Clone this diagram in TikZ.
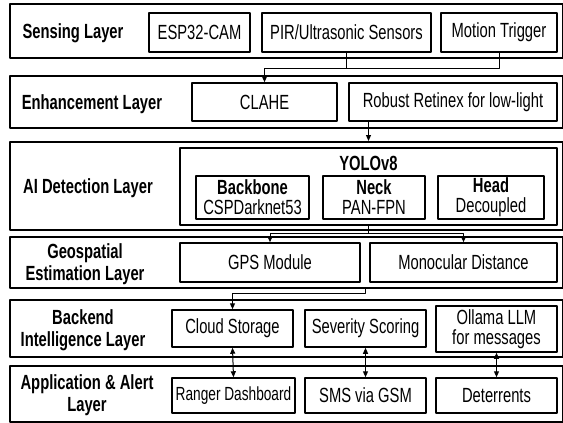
\documentclass[tikz,border=0pt]{standalone}
\usepackage{fontspec}
\setmainfont[FakeStretch=0.72]{Liberation Sans}
\usepackage{tikz}
\usetikzlibrary{arrows.meta,calc}
\newcommand{\txtsize}{\fontsize{20.5}{22}\selectfont}
\newcommand{\tightsize}{\fontsize{20.5}{20}\selectfont}
\tikzset{
    every picture/.style={line join=round},
    layerbox/.style={draw=black,line width=2pt,minimum width=553pt,inner sep=0pt},
    layerlabel/.style={font=\txtsize\bfseries,align=center,inner sep=0pt},
    modbox/.style={draw=black,line width=1.5pt,minimum height=39pt,
      inner xsep=0pt,inner ysep=1pt,font=\txtsize,align=center},
    twoline/.style={font=\tightsize},
    flowline/.style={draw=black,line width=1pt},
    flowarrow/.style={flowline,-{Triangle[length=6pt,width=5pt]}},
    twowayarrow/.style={flowline,{Triangle[length=6pt,width=5pt]}-{Triangle[length=6pt,width=5pt]}}
}
\begin{document}
\begin{tikzpicture}[x=1pt,y=-1pt]
  \useasboundingbox (0,0) rectangle (563,423);

  \node[layerbox,minimum height=54pt] (sense) at (286.5,31) {};
  \node[layerlabel] (senselbl) at (73,33) {Sensing Layer};
  \node[modbox,minimum width=101pt] (esp) at (199.5,32.5) {ESP32-CAM};
  \node[modbox,minimum width=169pt] (pir) at (346.5,32.5) {PIR/Ultrasonic Sensors};
  \node[modbox,minimum width=116pt] (motion) at (499,32.5) {Motion Trigger};

  \node[layerbox,minimum height=52pt] (enh) at (286.5,102) {};
  \node[layerlabel] (enhlbl) at (92,104) {Enhancement Layer};
  \node[modbox,minimum width=145pt,minimum height=38pt] (clahe) at (264.5,102) {CLAHE};
  \node[modbox,minimum width=208pt,minimum height=38pt] (retinex) at (453,102)
    {Robust Retinex for low-light};

  \node[layerbox,minimum height=88pt] (ai) at (286.5,186) {};
  \node[layerlabel] (ailbl) at (88,188) {AI Detection Layer};
  \node[modbox,minimum width=377pt,minimum height=77pt] (yolo) at (368.5,186.5) {};
  \node[layerlabel] (yolotitle) at (368.5,163) {YOLOv8};
  \node[modbox,twoline,minimum width=113pt,minimum height=43pt] (backbone) at (252.5,197.5)
    {\textbf{Backbone}\\CSPDarknet53};
  \node[modbox,twoline,minimum width=102pt,minimum height=43pt] (neck) at (374,197.5)
    {\textbf{Neck}\\PAN-FPN};
  \node[modbox,twoline,minimum width=106pt,minimum height=43pt] (head) at (491,197.5)
    {\textbf{Head}\\Decoupled};

  \node[layerbox,minimum height=51pt] (geo) at (286.5,262.5) {};
  \node[layerlabel] (geolbl) at (85,264) {Geospatial\\Estimation Layer};
  \node[modbox,minimum width=180pt] (gps) at (270,262.5) {GPS Module};
  \node[modbox,minimum width=187pt] (mono) at (463.5,262.5) {Monocular Distance};

  \node[layerbox,minimum height=57pt] (back) at (286.5,328.5) {};
  \node[layerlabel] (backlbl) at (83,330) {Backend\\Intelligence Layer};
  \node[modbox,minimum width=121pt,minimum height=37pt] (cloud) at (232.5,328.5) {Cloud Storage};
  \node[modbox,minimum width=121pt,minimum height=37pt] (severity) at (365.5,328.5)
    {Severity Scoring};
  \node[modbox,twoline,minimum width=121pt,minimum height=46pt] (ollama) at (496.5,329)
    {Ollama LLM\\for messages};

  \node[layerbox,minimum height=56pt] (app) at (286.5,394) {};
  \node[layerlabel] (applbl) at (87,395) {Application \& Alert\\Layer};
  \node[modbox,minimum width=123pt,minimum height=35pt,font=\fontsize{19}{20}\selectfont]
    (ranger) at (233.5,395.5) {Ranger Dashboard};
  \node[modbox,minimum width=121pt,minimum height=35pt] (sms) at (365.5,395.5) {SMS via GSM};
  \node[modbox,minimum width=121pt,minimum height=35pt] (deter) at (496.5,395.5) {Deterrents};

  \coordinate (trigjoin) at (264.5,68);
  \draw[flowarrow] (pir.south) |- (trigjoin) -- (clahe.north);
  \draw[flowline] (motion.south) |- (trigjoin);

  \draw[flowarrow] (yolo.north |- retinex.south) -- (yolo.north |- ai.north);

  \coordinate (detjoin) at (368.5,233);
  \draw[flowline] (yolo.south) -- (detjoin);
  \draw[flowarrow] (detjoin) -| (gps.north);
  \draw[flowarrow] (detjoin) -| (mono.north);

  \coordinate (geojoin) at (365,293);
  \draw[flowarrow] (geojoin |- geo.south) -- (geojoin) -| (cloud.north);

  \draw[twowayarrow] (cloud.south) -- (ranger.north);
  \draw[twowayarrow] (severity.south) -- (sms.north);
  \draw[twowayarrow] (ollama.south) -- (deter.north);
\end{tikzpicture}
\end{document}
